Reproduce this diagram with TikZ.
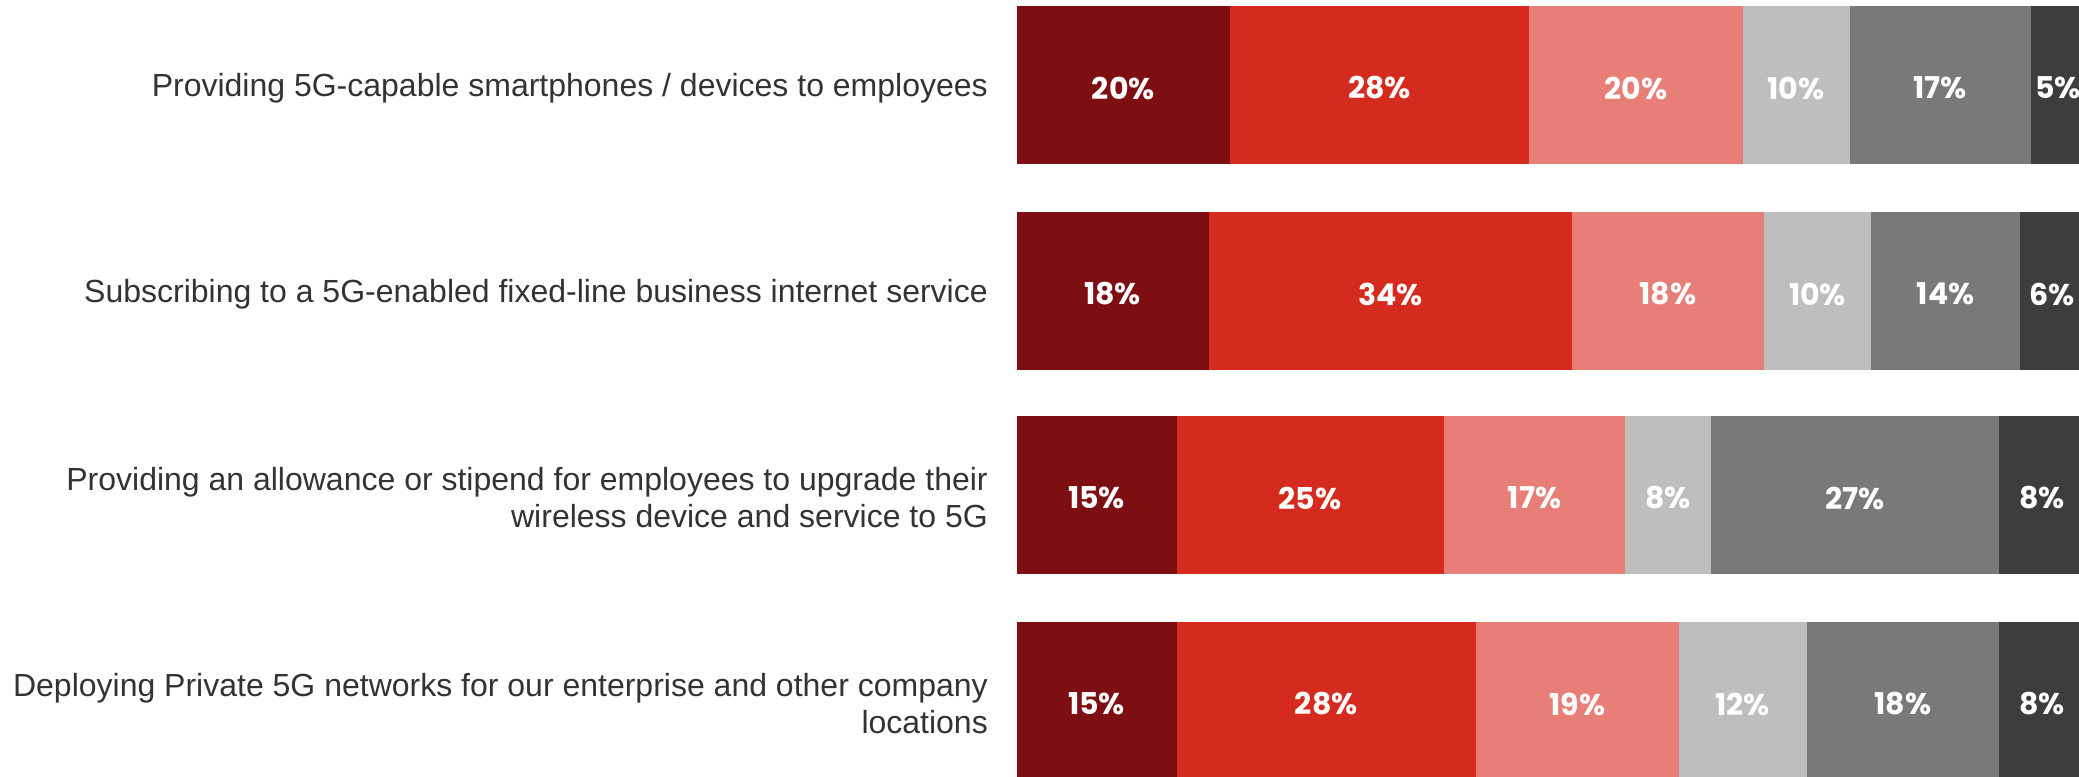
\documentclass[tikz,border=0pt]{standalone}
\usepackage{fontspec}
\setmainfont{Liberation Sans}
\newfontfamily\pctfont{Poppins}
\definecolor{segA}{HTML}{7D0E11}
\definecolor{segB}{HTML}{D42B1E}
\definecolor{segC}{HTML}{E77F78}
\definecolor{segD}{HTML}{BEBEBE}
\definecolor{segE}{HTML}{797979}
\definecolor{segF}{HTML}{3D3D3D}
\definecolor{labelgrey}{HTML}{333333}
\begin{document}
\begin{tikzpicture}[x=1pt, y=-1pt,
  rowlabel/.style={anchor=east, align=right, inner sep=0pt, text=labelgrey, font=\fontsize{32}{37}\selectfont},
  pct/.style={text=white, inner sep=0pt, font=\pctfont\bfseries\fontsize{30}{30}\selectfont}]
%  \draw[help lines] (0,0) grid[step=100] (2079,776);
  \useasboundingbox (0,0) rectangle (2079,776);
  \foreach \top/\vals/\txt [count=\r] in {
      6/{20,28,20,10,17,5}/{Providing 5G-capable smartphones / devices to employees},
      212/{18,34,18,10,14,6}/{Subscribing to a 5G-enabled fixed-line business internet service},
      416/{15,25,17,8,27,8}/{Providing an allowance or stipend for employees to upgrade their\\wireless device and service to 5G},
      622/{15,28,19,12,18,8}/{Deploying Private 5G networks for our enterprise and other company\\locations}} {
    \node[rowlabel] (label-\r) at (988, \top+82) {\txt};
    \foreach \v [count=\k, evaluate=\v as \s using \p+\v, remember=\s as \p (initially 0)] in \vals {
      \ifcase\k\or\def\segcol{segA}\or\def\segcol{segB}\or\def\segcol{segC}\or\def\segcol{segD}\or\def\segcol{segE}\or\def\segcol{segF}\fi
      \fill[\segcol] (1016.5+\p*10.68, \top) rectangle (1016.5+\s*10.68, \top+158);
      \node[pct] (pct-\r-\k) at (1016.5+\p*10.68+\v*5.34, \top+82) {\v\%};
    }
  }
\end{tikzpicture}
\end{document}
